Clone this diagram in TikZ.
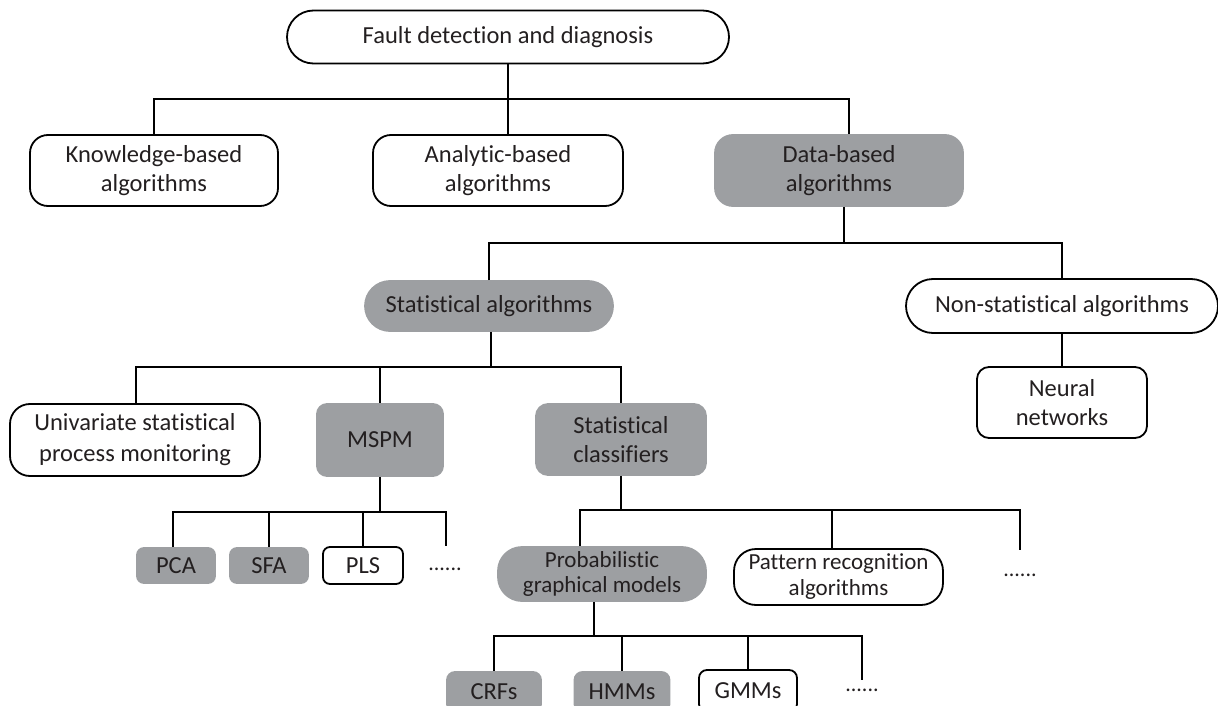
\documentclass[tikz,border=0pt]{standalone}
\usepackage{fontspec}
\setmainfont{Carlito}[Ligatures=NoCommon]
\usetikzlibrary{shapes.misc}

\definecolor{boxgray}{HTML}{9D9FA2}
\definecolor{ink}{HTML}{231F20}

\tikzset{
  base/.style={draw=black, line width=1.8pt, text=ink, align=center, inner sep=0pt,
               font=\fontsize{24.5}{29}\selectfont},
  whitebox/.style={base, fill=white, rounded corners=#1},
  graybox/.style={base, draw=boxgray, fill=boxgray, rounded corners=#1},
  whitepill/.style={base, fill=white, rounded rectangle},
  graypill/.style={base, draw=boxgray, fill=boxgray, rounded rectangle},
  dims/.style 2 args={minimum width=#1, minimum height=#2},
  dots/.style={text=ink, inner sep=0pt, font=\fontsize{22}{22}\selectfont},
  link/.style={line width=1.8pt, black}
}

\begin{document}
\begin{tikzpicture}[x=1pt, y=-1pt]
\useasboundingbox (0,0) rectangle (1218,706);
\clip (0,0) rectangle (1218,706);

% top level
\node[whitepill, dims={442pt}{53pt}] (root) at (508,37) {Fault detection and diagnosis};

\node[whitebox=18pt, dims={248pt}{71pt}] (know) at (154,170.5) {Knowledge-based\\algorithms};
\node[whitebox=18pt, dims={250pt}{71pt}] (analytic) at (498,170.5) {Analytic-based\\algorithms};
\node[graybox=18pt, dims={248pt}{71pt}] (data) at (839,170.5) {Data-based\\algorithms};

% data-based branch
\node[graypill, dims={248pt}{50pt}] (statalg) at (489,306) {Statistical algorithms};
\node[whitepill, dims={312pt}{54pt}] (nonstat) at (1062,306) {Non-statistical algorithms};
\node[whitebox=12pt, dims={170pt}{71pt}] (neural) at (1062,402.5) {Neural\\networks};

% statistical algorithms
\node[whitebox=20pt, dims={250pt}{72pt}, font=\fontsize{24.5}{31}\selectfont] (univ) at (135,440) {Univariate statistical\\process monitoring};
\node[graybox=10pt, dims={126pt}{72pt}] (mspm) at (380,440) {MSPM};
\node[graybox=12pt, dims={170pt}{71pt}] (statcls) at (621,439.5) {Statistical\\classifiers};

% MSPM methods
\node[graybox=7pt, dims={78pt}{35pt}] (pca) at (176,565.5) {PCA};
\node[graybox=7pt, dims={78pt}{35pt}] (sfa) at (269,565.5) {SFA};
\node[whitebox=7pt, dims={80pt}{37pt}] (pls) at (363,565.5) {PLS};
\node[dots] (dotsA) at (445,569) {......};

% statistical classifiers
\node[graybox=24pt, dims={208pt}{54pt}, font=\fontsize{23}{25}\selectfont] (prob) at (602,574) {Probabilistic\\graphical models};
\node[whitebox=22pt, dims={209pt}{56pt}, font=\fontsize{23}{26}\selectfont] (pattern) at (838.5,577) {Pattern recognition\\algorithms};
\node[dots] (dotsB) at (1020,575) {......};

% probabilistic graphical models
\node[graybox=8pt, dims={94pt}{40pt}] (crfs) at (494,692) {CRFs};
\node[graybox=8pt, dims={95pt}{40pt}] (hmms) at (622,692) {HMMs};
\node[whitebox=8pt, dims={98pt}{42pt}] (gmms) at (748,691) {GMMs};
\node[dots] (dotsC) at (862,690) {......};

% junctions and open ends
\coordinate (j1) at (508,99);
\coordinate (j2) at (844,243);
\coordinate (j3) at (491,367);
\coordinate (j4) at (380,512);
\coordinate (eA) at (446,546);
\coordinate (j5) at (621,510);
\coordinate (eB) at (1020,550);
\coordinate (j6) at (594,636);
\coordinate (eC) at (862,680);
\coordinate (patTop) at ([xshift=-6.5pt]pattern.north);

% level 1
\draw[link] (root.south) -- (j1 |- analytic.north);
\draw[link] (know.north) |- (j1) -| ([xshift=10pt]data.north);

% level 2
\draw[link] ([xshift=5pt]data.south) -- (j2);
\draw[link] (statalg.north) |- (j2) -| (nonstat.north);
\draw[link] (nonstat.south) -- (neural.north);

% level 3
\draw[link] ([xshift=2pt]statalg.south) -- (j3);
\draw[link] ([xshift=1pt]univ.north) |- (j3) -| (statcls.north);
\draw[link] (j3 -| mspm.north) -- (mspm.north);

% level 4
\draw[link] (mspm.south) -- (j4);
\draw[link] ([xshift=-3pt]pca.north) |- (j4) -| (eA);
\draw[link] (j4 -| sfa.north) -- (sfa.north);
\draw[link] (j4 -| pls.north) -- (pls.north);

% level 5
\draw[link] (statcls.south) -- (j5);
\draw[link] ([xshift=-22pt]prob.north) |- (j5) -| (eB);
\draw[link] (patTop |- j5) -- (patTop);

% level 6
\draw[link] ([xshift=-8pt]prob.south) -- (j6);
\draw[link] (crfs.north) |- (j6) -| (eC);
\draw[link] (j6 -| hmms.north) -- (hmms.north);
\draw[link] (j6 -| gmms.north) -- (gmms.north);
\end{tikzpicture}
\end{document}
